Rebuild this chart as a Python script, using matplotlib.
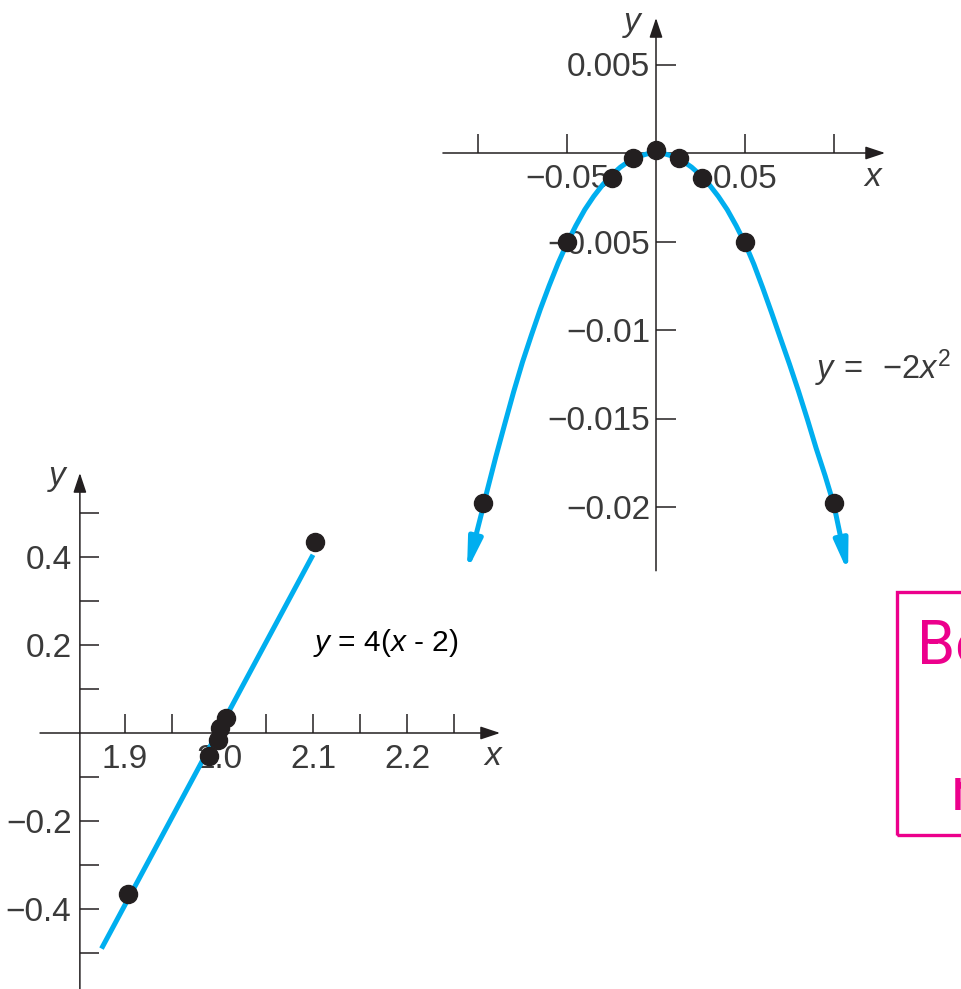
import matplotlib
matplotlib.use('Agg')
import matplotlib.pyplot as plt
from matplotlib.patches import Rectangle

plt.rcParams['font.family'] = ['Liberation Sans', 'DejaVu Sans']
plt.rcParams['mathtext.fontset'] = 'custom'
plt.rcParams['mathtext.rm'] = 'Liberation Sans'
plt.rcParams['mathtext.it'] = 'Liberation Sans:italic'

# ---- data ----
# top graph: y = -2x^2 near x = 0
para_x = [-0.0966, -0.095, -0.09, -0.085, -0.08, -0.075, -0.07, -0.065, -0.06, -0.055, -0.05,
          -0.045, -0.04, -0.035, -0.03, -0.025, -0.02, -0.015, -0.01, -0.005, 0.0,
          0.005, 0.01, 0.015, 0.02, 0.025, 0.03, 0.035, 0.04, 0.045, 0.05,
          0.055, 0.06, 0.065, 0.07, 0.075, 0.08, 0.085, 0.09, 0.095, 0.0999]
para_y = [-0.0198, -0.01913, -0.01717, -0.01532, -0.0135, -0.01181, -0.01029, -0.00883, -0.00749, -0.00623, -0.0051,
          -0.0041, -0.0032, -0.00245, -0.0018, -0.00125, -0.0008, -0.00045, -0.0002, -0.00005, 0.0,
          -0.00005, -0.0002, -0.00045, -0.0008, -0.00125, -0.0018, -0.00245, -0.0032, -0.0041, -0.0051,
          -0.00629, -0.00763, -0.00904, -0.01049, -0.01193, -0.01344, -0.01503, -0.01669, -0.01823, -0.01986]
para_tips = [(-0.1062, -0.0236), (0.1079, -0.0237)]
para_pts_x = [-0.097, -0.05, -0.025, -0.013, 0.0, 0.013, 0.026, 0.05, 0.1]
para_pts_y = [-0.0198, -0.005, -0.0014, -0.0003, 0.00015, -0.0003, -0.0014, -0.005, -0.0198]
top_xticks = [-0.1, -0.05, 0.05, 0.1]
top_xlabels = ['', '\u22120.05', '0.05', '']
top_yticks = [0.005, -0.005, -0.01, -0.015, -0.02]
top_ylabels = ['0.005', '\u22120.005', '\u22120.01', '\u22120.015', '\u22120.02']

# bottom graph: y = 4(x - 2) near x = 2
line_x = [1.875, 2.1]
line_y = [-0.49, 0.405]
line_pts_x = [1.903, 1.989, 1.999, 2.001, 2.007, 2.102]
line_pts_y = [-0.366, -0.052, -0.016, 0.011, 0.033, 0.435]
bot_xticks = [1.9, 1.95, 2.0, 2.05, 2.1, 2.15, 2.2, 2.25]
bot_xlabels = ['1.9', '', '2.0', '', '2.1', '', '2.2', '']
bot_yticks = [0.5, 0.4, 0.3, 0.2, 0.1, -0.1, -0.2, -0.3, -0.4, -0.5]
bot_ylabels = ['', '0.4', '', '0.2', '', '', '\u22120.2', '', '\u22120.4', '']

BLUE = '#00aeef'
INK = '#231f20'
GREY = '#3a3a3a'
PINK = '#ec008c'

W, H = 961, 989
fig = plt.figure(figsize=(W / 100, H / 100), dpi=100)


def place(xlim, ylim, x0, sx, y0, sy):
    # x pixel = x0 + sx * x ; y pixel (from top) = y0 - sy * y
    left = x0 + sx * xlim[0]
    right = x0 + sx * xlim[1]
    top = y0 - sy * ylim[1]
    bottom = y0 - sy * ylim[0]
    ax = fig.add_axes([left / W, 1 - bottom / H, (right - left) / W, (bottom - top) / H])
    ax.set_xlim(xlim)
    ax.set_ylim(ylim)
    ax.patch.set_alpha(0)
    for s in ax.spines.values():
        s.set_color('none')
    return ax


def axis_arrow(ax, start, end):
    ax.annotate('', xy=end, xytext=start, annotation_clip=False,
                arrowprops=dict(arrowstyle='-|>,head_length=0.6,head_width=0.2', color=INK,
                                lw=1.1, shrinkA=0, shrinkB=0, mutation_scale=20))


def curve_arrow(ax, start, end):
    ax.annotate('', xy=end, xytext=start, annotation_clip=False, zorder=4,
                arrowprops=dict(arrowstyle='-|>,head_length=0.45,head_width=0.1', color=BLUE,
                                lw=3.6, shrinkA=0, shrinkB=0, mutation_scale=40))


def style_ticks(ax, xpad, ypad):
    ax.tick_params(axis='both', direction='in', length=13.5, width=1.1, color=INK,
                   labelsize=24, labelcolor=GREY)
    ax.tick_params(axis='x', pad=xpad)
    ax.tick_params(axis='y', pad=ypad)


# ---- top graph ----
ax1 = place((-0.13, 0.135), (-0.0255, 0.0086), 656, 1780, 153, 17700)
ax1.spines['left'].set_position(('data', 0))
ax1.spines['bottom'].set_position(('data', 0))
ax1.set_xticks(top_xticks, top_xlabels)
ax1.set_yticks(top_yticks, top_ylabels)
style_ticks(ax1, 8, 4)
ax1.tick_params(axis='y', length=14.5)
axis_arrow(ax1, (-0.1197, 0), (0.1287, 0))
axis_arrow(ax1, (0, -0.0236), (0, 0.00763))
ax1.plot(para_x, para_y, color=BLUE, lw=3.6, zorder=4, clip_on=False)
curve_arrow(ax1, (para_x[0], para_y[0]), para_tips[0])
curve_arrow(ax1, (para_x[-1], para_y[-1]), para_tips[1])
ax1.plot(para_pts_x, para_pts_y, 'o', color=INK, markersize=13, zorder=5, clip_on=False)
ax1.text(-0.0135, 0.0074, 'y', style='italic', fontsize=24, color=GREY, ha='center', va='center')
ax1.text(0.1219, -0.00136, 'x', style='italic', fontsize=24, color=GREY, ha='center', va='center')
ax1.text(0.0893, -0.01277, r'$y\,=\;\;{-2}x^{2}$', fontsize=23.5, color=GREY, ha='left', va='baseline')

# ---- bottom graph ----
ax2 = place((1.80, 2.32), (-0.585, 0.62), 219 - 940 * 2, 940, 733, 440)
ax2.spines['left'].set_position(('data', 1.852))
ax2.spines['bottom'].set_position(('data', 0))
ax2.set_xticks(bot_xticks, bot_xlabels)
ax2.set_yticks(bot_yticks, bot_ylabels)
style_ticks(ax2, 8, 6)
axis_arrow(ax2, (1.8096, 0), (2.299, 0))
axis_arrow(ax2, (1.852, -0.6), (1.852, 0.591))
ax2.plot(line_x, line_y, color=BLUE, lw=3.6, zorder=4, solid_capstyle='butt', clip_on=False)
ax2.plot(line_pts_x, line_pts_y, 'o', color=INK, markersize=13, zorder=5, clip_on=False)
ax2.text(1.8277, 0.582, 'y', style='italic', fontsize=24, color=GREY, ha='center', va='center')
ax2.text(2.2915, -0.0545, 'x', style='italic', fontsize=24, color=GREY, ha='center', va='center')
ax2.text(2.1, 0.186, '$y$ = 4($x$ - 2)', fontsize=21.5, color='black', ha='left', va='baseline')

# ---- cropped pink box at the right edge ----
fig.add_artist(Rectangle((897 / W, 1 - 835 / H), 0.2, (835 - 592) / H, transform=fig.transFigure,
                         fill=False, ec=PINK, lw=2.4))
fig.text(917 / W, 1 - 663 / H, 'Be', fontsize=44, family='Roboto', color=PINK, ha='left', va='baseline')
fig.text(951 / W, 1 - 810 / H, 'n', fontsize=44, family='Roboto', color=PINK, ha='left', va='baseline')

fig.savefig('out.png', dpi=100)
